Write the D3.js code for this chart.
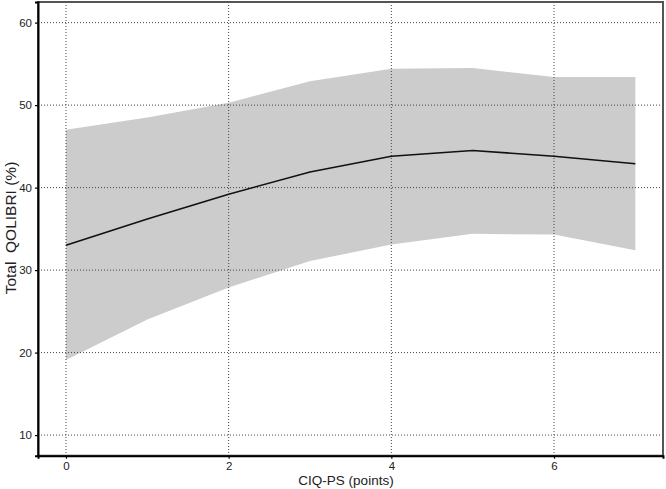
<!DOCTYPE html>
<html>
<head>
<meta charset="utf-8">
<script src="https://cdn.jsdelivr.net/npm/d3@7"></script>
<style>
  html, body { margin: 0; padding: 0; background: #fff; }
  svg { display: block; font-family: "Liberation Sans", Arial, sans-serif; }
</style>
</head>
<body>
<svg id="chart" width="666" height="489"></svg>
<script>
// CIQ-PS score vs predicted total QOLIBRI with confidence band
const ciqPs = [0, 1, 2, 3, 4, 5, 6, 7];
const qolMean = [33.0, 36.2, 39.2, 41.9, 43.8, 44.5, 43.8, 42.9];
const qolUpper = [47.0, 48.5, 50.3, 52.9, 54.4, 54.5, 53.4, 53.4];
const qolLower = [19.1, 24.0, 27.9, 31.1, 33.1, 34.4, 34.3, 32.4];
const xTicks = [0, 2, 4, 6];
const yTicks = [10, 20, 30, 40, 50, 60];

const rows = ciqPs.map((c, i) => ({ x: c, m: qolMean[i], hi: qolUpper[i], lo: qolLower[i] }));

const svg = d3.select('#chart');
const W = 666, H = 489;
const margin = { top: 2, right: 3, bottom: 33.3, left: 38 };
const width = W - margin.left - margin.right;
const height = H - margin.top - margin.bottom;

const g = svg.append('g').attr('transform', `translate(${margin.left},${margin.top})`);

const x = d3.scaleLinear().domain([-0.344, 7.34]).range([0, width]);
const y = d3.scaleLinear().domain([7.5, 62.5]).range([height, 0]);

// confidence band
g.append('path')
  .datum(rows)
  .attr('fill', '#cccccc')
  .attr('d', d3.area().x(d => x(d.x)).y0(d => y(d.lo)).y1(d => y(d.hi)));

// dotted grid, drawn over the band
g.append('g')
  .selectAll('line.h')
  .data(yTicks)
  .join('line')
  .attr('x1', 0).attr('x2', width)
  .attr('y1', d => y(d)).attr('y2', d => y(d))
  .attr('stroke', '#444').attr('stroke-width', 1).attr('stroke-dasharray', '1 2');

g.append('g')
  .selectAll('line.v')
  .data(xTicks)
  .join('line')
  .attr('x1', d => x(d)).attr('x2', d => x(d))
  .attr('y1', 0).attr('y2', height)
  .attr('stroke', '#444').attr('stroke-width', 1).attr('stroke-dasharray', '1 2');

// mean line
g.append('path')
  .datum(rows)
  .attr('fill', 'none')
  .attr('stroke', '#111')
  .attr('stroke-width', 1.6)
  .attr('d', d3.line().x(d => x(d.x)).y(d => y(d.m)));

// frame (top/right grey)
g.append('rect')
  .attr('x', 0).attr('y', 0).attr('width', width).attr('height', height)
  .attr('fill', 'none').attr('stroke', '#555').attr('stroke-width', 2);

// axes
const xAxis = g.append('g')
  .attr('transform', `translate(0,${height})`)
  .call(d3.axisBottom(x).tickValues(xTicks).tickSize(3).tickPadding(3).tickFormat(d3.format('d')));
const yAxis = g.append('g')
  .call(d3.axisLeft(y).tickValues(yTicks).tickSize(3).tickPadding(3).tickFormat(d3.format('d')));

[xAxis, yAxis].forEach(a => {
  a.select('.domain').attr('stroke', '#000').attr('stroke-width', 2);
  a.selectAll('.tick line').attr('stroke', '#000').attr('stroke-width', 1.2);
  a.selectAll('text').attr('fill', '#222').style('font-size', '11.5px')
    .style('font-family', '"Liberation Sans", Arial, sans-serif');
});

// titles
svg.append('text')
  .attr('x', 346).attr('y', 485)
  .attr('text-anchor', 'middle')
  .attr('fill', '#222')
  .style('font-size', '13.5px')
  .text('CIQ-PS (points)');

svg.append('text')
  .attr('transform', 'translate(16,228) rotate(-90)')
  .attr('text-anchor', 'middle')
  .attr('fill', '#222')
  .style('font-size', '15.5px')
  .style('white-space', 'pre')
  .attr('xml:space', 'preserve')
  .text('Total  QOLIBRI (%)');
</script>
</body>
</html>
